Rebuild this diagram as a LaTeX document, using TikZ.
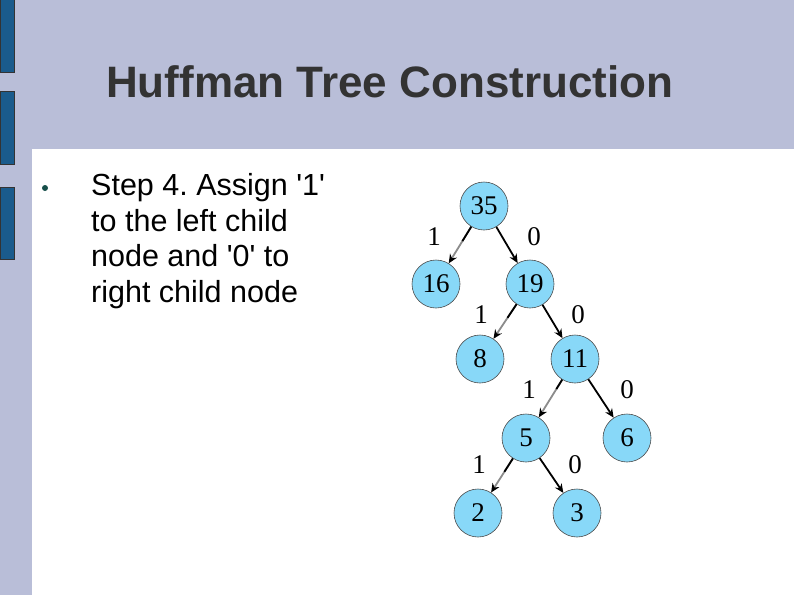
\documentclass[tikz,border=0pt]{standalone}
\usepackage{fontspec}
\setmainfont{Liberation Serif}
\setsansfont{Liberation Sans}
\usetikzlibrary{arrows.meta,calc}
\definecolor{bgl}{HTML}{B9BED8}
\definecolor{barb}{HTML}{1A5B8C}
\definecolor{nodefill}{HTML}{88D8F8}
\definecolor{titlec}{HTML}{333333}
\definecolor{bulletc}{HTML}{174F4A}
\frenchspacing
\tikzset{
  tn/.style={circle, draw=black!70, line width=0.6pt, fill=nodefill, minimum size=48pt, inner sep=0pt, font=\fontsize{27}{27}\selectfont},
  lbl/.style={font=\fontsize{27}{27}\selectfont, inner sep=0pt},
  rightedge/.style={draw=black, line width=1.8pt, -{Stealth[length=9pt,width=8pt]}},
  leftedge/.style={draw=black!45, line width=1.8pt, -{Stealth[length=9pt,width=8pt,color=black]}},
  leftstart/.style={draw=black, line width=1.8pt},
  bar/.style={fill=barb, draw=black!80, line width=0.6pt}
}
\begin{document}
\begin{tikzpicture}[x=1pt,y=-1pt]
\fill[bgl] (0,0) rectangle (794,595);
\useasboundingbox (0,0) rectangle (794,595);
\fill[white] (32,149) rectangle (794,595);
\draw[bar] (0,-1) rectangle (14,72);
\draw[bar] (0,91) rectangle (14,164);
\draw[bar] (0,187) rectangle (14,259);
\node[anchor=base west, inner sep=0pt, text=titlec, font=\sffamily\bfseries\fontsize{44}{44}\selectfont] (title) at (106,97) {Huffman Tree Construction};
\fill[bulletc] (45,188) circle (3pt);
\node[anchor=north west, inner sep=0pt, align=left, font=\sffamily\fontsize{30.5}{35.7}\selectfont] (txt) at (91,173) {Step 4. Assign \textquotesingle1\textquotesingle\\to the left child\\node and \textquotesingle0\textquotesingle{} to\\right child node};
\node[tn] (n35) at (484,206) {35};
\node[tn] (n16) at (436,284) {16};
\node[tn] (n19) at (530,284) {19};
\node[tn] (n8) at (480,359) {8};
\node[tn] (n11) at (575,359) {11};
\node[tn] (n5) at (526,438) {5};
\node[tn] (n6) at (627,438) {6};
\node[tn] (n2) at (478,513) {2};
\node[tn] (n3) at (577,513) {3};
\path[leftedge] (n35) -- (n16);
\path[leftstart] (n35) -- ($(n35)!0.45!(n16)$);
\path[rightedge] (n35) -- (n19);
\path[leftedge] (n19) -- (n8);
\path[leftstart] (n19) -- ($(n19)!0.45!(n8)$);
\path[rightedge] (n19) -- (n11);
\path[leftedge] (n11) -- (n5);
\path[leftstart] (n11) -- ($(n11)!0.38!(n5)$);
\path[rightedge] (n11) -- (n6);
\path[leftedge] (n5) -- (n2);
\path[leftstart] (n5) -- ($(n5)!0.45!(n2)$);
\path[rightedge] (n5) -- (n3);
\node[lbl] (l1) at (434,237) {1};
\node[lbl] (l2) at (534,237) {0};
\node[lbl] (l3) at (481,315) {1};
\node[lbl] (l4) at (578,315) {0};
\node[lbl] (l5) at (529,390) {1};
\node[lbl] (l6) at (627,390) {0};
\node[lbl] (l7) at (479,465) {1};
\node[lbl] (l8) at (575,465) {0};
\end{tikzpicture}
\end{document}
